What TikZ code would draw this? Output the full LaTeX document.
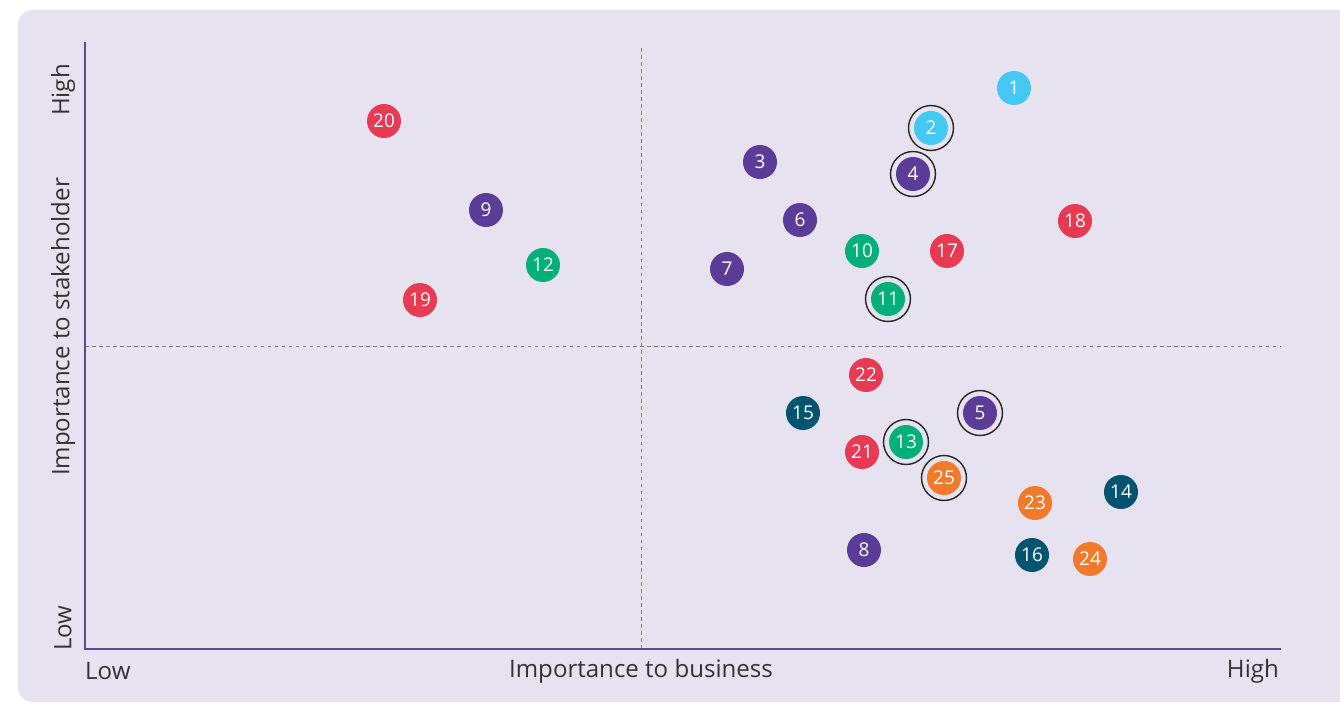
\documentclass[tikz,border=0pt]{standalone}
\usepackage{fontspec}
\setmainfont{Open Sans}
\definecolor{panelbg}{HTML}{E6E2F0}
\definecolor{axisline}{HTML}{5A4A92}
\definecolor{labeltext}{HTML}{333333}
\definecolor{skyblue}{HTML}{42C8F2}
\definecolor{violet}{HTML}{5B3D99}
\definecolor{coral}{HTML}{E83A52}
\definecolor{emerald}{HTML}{00AF7A}
\definecolor{petrol}{HTML}{005470}
\definecolor{tangerine}{HTML}{F37A2B}
\tikzset{
  dot/.style={circle, inner sep=0pt, minimum size=0.68cm, text=white, font=\fontsize{10.8}{11}\selectfont},
  ring/.style={draw=black!85, line width=0.8pt},
  guide/.style={gray, line width=0.5pt, dash pattern=on 2pt off 2pt},
  axislabel/.style={text=labeltext, font=\fontsize{13.7}{15}\selectfont}
}
\begin{document}
\begin{tikzpicture}[x=0.02cm, y=-0.02cm]
	\useasboundingbox (0,0) rectangle (1340,704);
	% Draw the panel
	\fill[panelbg, rounded corners=0.3cm] (18,10) rectangle (1380,702);

	% Draw the quadrant guides and axes
	\coordinate (top) at (641,48);
	\coordinate (mid) at (641,649);
	\coordinate (left) at (85,346);
	\coordinate (right) at (1281,346);
	\draw[guide] (top) -- (mid);
	\draw[guide] (left) -- (right);
	\coordinate (origin) at (85,649);
	\coordinate (ytop) at (85,42);
	\coordinate (xend) at (1281,649);
	\draw[axisline, line width=1.1pt] (ytop) -- (origin) -- (xend);

	% Label the axes
	\node[axislabel, anchor=west] (xlow) at (79,671) {Low};
	\node[axislabel] (xname) at (641,671) {Importance to business};
	\node[axislabel, anchor=east] (xhigh) at (1285,671) {High};
	\node[axislabel, rotate=90] (yhigh) at (63,90) {High};
	\node[axislabel, rotate=90] (yname) at (63,327) {Importance to stakeholder};
	\node[axislabel, rotate=90] (ylow) at (63,628) {Low};

	% Draw the points
	\node[dot, fill=skyblue] (p1) at (1014,88) {1};
	\node[dot, fill=skyblue] (p2) at (931,128) {2};
	\node[dot, fill=violet] (p3) at (760,162) {3};
	\node[dot, fill=violet] (p4) at (913,174) {4};
	\node[dot, fill=violet] (p5) at (980,413) {5};
	\node[dot, fill=violet] (p6) at (800,220) {6};
	\node[dot, fill=violet] (p7) at (727,269) {7};
	\node[dot, fill=violet] (p8) at (864,550) {8};
	\node[dot, fill=violet] (p9) at (486,210) {9};
	\node[dot, fill=emerald] (p10) at (862,251) {10};
	\node[dot, fill=emerald] (p11) at (888,299) {11};
	\node[dot, fill=emerald] (p12) at (543,265) {12};
	\node[dot, fill=emerald] (p13) at (906,442) {13};
	\node[dot, fill=petrol] (p14) at (1121,492) {14};
	\node[dot, fill=petrol] (p15) at (803,413) {15};
	\node[dot, fill=petrol] (p16) at (1032,555) {16};
	\node[dot, fill=coral] (p17) at (947,251) {17};
	\node[dot, fill=coral] (p18) at (1075,221) {18};
	\node[dot, fill=coral] (p19) at (420,300) {19};
	\node[dot, fill=coral] (p20) at (384,121) {20};
	\node[dot, fill=coral] (p21) at (862,452) {21};
	\node[dot, fill=coral] (p22) at (866,375) {22};
	\node[dot, fill=tangerine] (p23) at (1035,503) {23};
	\node[dot, fill=tangerine] (p24) at (1090,559) {24};
	\node[dot, fill=tangerine] (p25) at (944,478) {25};

	% Ring the highlighted points
	\draw[ring] (p2) circle (0.45cm);
	\draw[ring] (p4) circle (0.45cm);
	\draw[ring] (p11) circle (0.45cm);
	\draw[ring] (p5) circle (0.45cm);
	\draw[ring] (p13) circle (0.45cm);
	\draw[ring] (p25) circle (0.45cm);
\end{tikzpicture}
\end{document}
